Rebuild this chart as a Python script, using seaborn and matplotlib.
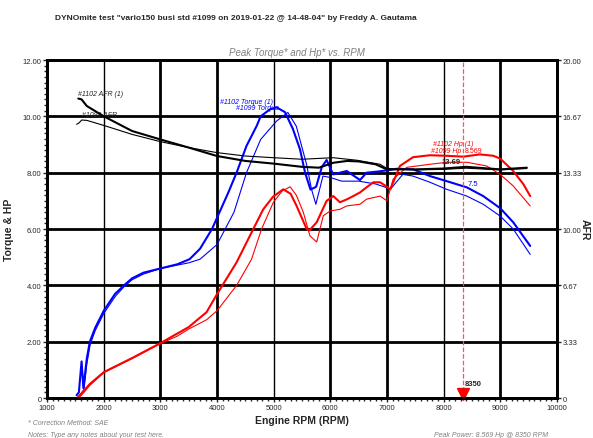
import numpy as np
import matplotlib
matplotlib.use('Agg')
import matplotlib.pyplot as plt
import matplotlib.ticker as mticker
import pandas as pd
import seaborn as sns

# ---- data ----
# torque (#1102 run, thick) and (#1099 run, thin)
tq_1102_rpm = [1519, 1560, 1608, 1640, 1700, 1754, 1850, 2000, 2200, 2357, 2500,
               2700, 3000, 3300, 3516, 3700, 3911, 4000, 4200, 4345, 4520, 4700,
               4770, 4935, 5050, 5200, 5340, 5465, 5555, 5650, 5750, 5850, 5935,
               6050, 6290, 6525, 6640, 6880, 7180, 7460, 7760, 8055, 8410, 8700,
               9000, 9230, 9530]
tq_1102 = [0.1, 0.2, 1.3, 0.35, 1.4, 2.0, 2.5, 3.1, 3.7, 4.0, 4.25,
           4.45, 4.6, 4.75, 4.93, 5.3, 6.0, 6.4, 7.3, 8.0, 8.95, 9.66,
           10.0, 10.25, 10.32, 10.15, 9.55, 8.83, 8.0, 7.4, 7.5, 8.2, 8.45,
           7.94, 8.06, 7.74, 8.0, 8.05, 8.14, 8.12, 7.88, 7.7, 7.48, 7.17,
           6.74, 6.24, 5.4]

tq_1099_rpm = [1560, 1650, 1700, 1760, 1850, 2000, 2200, 2357, 2500, 2700, 3000,
               3300, 3500, 3700, 4000, 4300, 4520, 4770, 5050, 5250, 5400, 5580,
               5670, 5745, 5870, 6000, 6200, 6500, 6800, 6950, 7060, 7280, 7460,
               7760, 8055, 8410, 8700, 9000, 9230, 9530]
tq_1099 = [0.05, 0.3, 1.2, 1.9, 2.4, 3.0, 3.6, 3.95, 4.2, 4.4, 4.6,
           4.72, 4.8, 4.93, 5.45, 6.6, 8.0, 9.18, 9.83, 10.14, 9.65, 8.3,
           7.4, 6.88, 7.88, 7.83, 7.7, 7.7, 7.6, 7.5, 7.41, 7.94, 7.88,
           7.66, 7.41, 7.17, 6.88, 6.46, 6.0, 5.1]

# horsepower
hp_1102_rpm = [1530, 1600, 1754, 2000, 2500, 3000, 3500, 3816, 4000, 4346, 4640,
               4816, 4990, 5170, 5300, 5405, 5583, 5630, 5760, 5935, 6053, 6170,
               6300, 6405, 6525, 6640, 6760, 6880, 7000, 7060, 7230, 7460, 7760,
               8055, 8350, 8640, 8880, 9000, 9230, 9410, 9530]
hp_1102 = [0.0, 0.15, 0.5, 0.92, 1.42, 1.95, 2.52, 3.05, 3.69, 4.82, 6.0,
           6.7, 7.15, 7.41, 7.25, 6.82, 6.0, 5.95, 6.24, 7.0, 7.17, 6.95,
           7.06, 7.17, 7.3, 7.48, 7.66, 7.66, 7.5, 7.41, 8.24, 8.55, 8.62,
           8.6, 8.57, 8.65, 8.6, 8.5, 8.06, 7.59, 7.17]

hp_1099_rpm = [1560, 1650, 1754, 2000, 2500, 3000, 3300, 3500, 3816, 4000, 4346,
               4610, 4786, 4995, 5150, 5290, 5400, 5523, 5640, 5760, 5876, 5995,
               6170, 6290, 6525, 6640, 6880, 7000, 7110, 7350, 7760, 8055, 8410,
               8760, 9000, 9230, 9530]
hp_1099 = [0.0, 0.2, 0.45, 0.9, 1.4, 1.93, 2.2, 2.45, 2.78, 3.1, 4.0,
           4.93, 6.0, 6.95, 7.35, 7.5, 7.2, 6.6, 5.76, 5.54, 6.47, 6.64,
           6.7, 6.82, 6.88, 7.06, 7.17, 7.0, 7.77, 8.19, 8.3, 8.37, 8.37,
           8.24, 7.94, 7.53, 6.82]

# air/fuel ratio (right axis)
afr_1102_rpm = [1550, 1608, 1700, 2000, 2500, 3000, 3500, 4000, 4500, 5000, 5500,
                5800, 6050, 6300, 6500, 6800, 7000, 7500, 8000, 8400, 9000, 9470]
afr_1102 = [17.72, 17.67, 17.28, 16.67, 15.8, 15.3, 14.82, 14.32, 14.03, 13.87, 13.68,
            13.63, 13.92, 14.03, 14.0, 13.83, 13.53, 13.53, 13.58, 13.68, 13.53, 13.63]

afr_1099_rpm = [1520, 1560, 1610, 1700, 2000, 2500, 3000, 3500, 4000, 4500, 5000,
                5500, 6050, 6470, 6880, 7000, 7500, 8000, 8400, 9000, 9470]
afr_1099 = [16.2, 16.27, 16.45, 16.43, 16.13, 15.6, 15.17, 14.82, 14.52, 14.32, 14.22,
            14.13, 14.22, 14.07, 13.83, 13.58, 13.5, 13.53, 13.6, 13.5, 13.58]

peak_rpm = 8350
afr_ticks = [0, 3.33, 6.67, 10.00, 13.33, 16.67, 20.00]


sns.set_style('white')
plt.rcParams['font.family'] = ['Liberation Sans Narrow', 'Liberation Sans', 'DejaVu Sans']

fig = plt.figure(figsize=(5.93, 4.39), dpi=100)
ax = fig.add_axes([0.0795, 0.091, 0.8595, 0.770])
ax2 = ax.twinx()

# torque & hp curves
sns.lineplot(x=tq_1102_rpm, y=tq_1102, ax=ax, color='#0000ff', linewidth=1.5, estimator=None)
sns.lineplot(x=tq_1099_rpm, y=tq_1099, ax=ax, color='#0000ff', linewidth=0.8, estimator=None)
sns.lineplot(x=hp_1102_rpm, y=hp_1102, ax=ax, color='#ff0000', linewidth=1.5, estimator=None)
sns.lineplot(x=hp_1099_rpm, y=hp_1099, ax=ax, color='#ff0000', linewidth=0.8, estimator=None)

# afr curves on the right scale
sns.lineplot(x=afr_1102_rpm, y=afr_1102, ax=ax2, color='black', linewidth=1.5, estimator=None)
sns.lineplot(x=afr_1099_rpm, y=afr_1099, ax=ax2, color='black', linewidth=0.8, estimator=None)

ax.set_xlim(1000, 10000)
ax.set_ylim(0, 12)
ax2.set_ylim(0, 20)

# grid, thin lines at 2000/5000/8000 like the original print
ax.set_xticks(range(1000, 10001, 1000))
ax.set_yticks(range(0, 13, 2))
ax.grid(True, color='black', linewidth=2)
for gl, t in zip(ax.xaxis.get_gridlines(), ax.get_xticks()):
    if t in (2000, 5000, 8000):
        gl.set_linewidth(1)
ax.set_axisbelow(True)
ax2.grid(False)

ax.xaxis.set_minor_locator(mticker.MultipleLocator(100))
ax.yaxis.set_minor_locator(mticker.MultipleLocator(0.2))
ax.tick_params(axis='both', which='major', direction='out', length=3, width=1,
               labelsize=5.5, pad=1, bottom=True, left=True)
ax.tick_params(axis='both', which='minor', direction='out', length=2, width=1,
               bottom=True, left=True)
ax.set_yticklabels(['0'] + ['%.2f' % v for v in range(2, 13, 2)])
ax.set_xticklabels([str(v) for v in range(1000, 10001, 1000)])

ax2.set_yticks(afr_ticks)
ax2.set_yticklabels(['0'] + ['%.2f' % v for v in afr_ticks[1:]])
ax2.tick_params(axis='y', direction='out', length=3, width=1, labelsize=5.5, pad=1, right=True)

for a in (ax, ax2):
    for sp in a.spines.values():
        sp.set_color('black')
        sp.set_linewidth(2)

ax.set_xlabel('Engine RPM (RPM)', fontsize=7.5, fontweight='bold', labelpad=3)
ax.set_ylabel('Torque & HP', fontsize=7.5, fontweight='bold')
ax.yaxis.set_label_coords(-0.065, 0.5)
ax2.set_ylabel('AFR', fontsize=7.5, fontweight='bold', rotation=-90, va='center')
ax2.yaxis.set_label_coords(1.055, 0.5)

# peak marker
ax.axvline(peak_rpm, color='#ff5555', linestyle='--', linewidth=0.9)
ax.plot([peak_rpm], [0.15], marker='v', color='#ff0000', markersize=9, clip_on=False)
ax.text(peak_rpm + 30, 0.5, '8350', fontsize=5.5, fontweight='bold', va='center')

# curve labels
ax.text(1540, 10.7, '#1102 AFR (1)', fontsize=5, style='italic', va='bottom')
ax.text(1620, 9.95, '#1099 AFR', fontsize=5, style='italic', va='bottom')
ax.text(4055, 10.42, '#1102 Torque (1)', fontsize=5, style='italic', color='#0000ff', va='bottom')
ax.text(4330, 10.18, '#1099 Torque', fontsize=5, style='italic', color='#0000ff', va='bottom')
ax.text(7820, 8.92, '#1102 Hp (1)', fontsize=5, style='italic', color='#ff0000', va='bottom')
ax.text(7780, 8.66, '#1099 Hp', fontsize=5, style='italic', color='#ff0000', va='bottom')
ax.text(8380, 8.8, '8.569', fontsize=5, color='#ff0000', va='center')
ax.text(7970, 8.38, '13.69', fontsize=5.5, fontweight='bold', va='center')
ax.text(8420, 7.62, '7.5', fontsize=5.5, color='#0000ff', va='center')

# titles and notes
fig.text(0.398, 0.958, 'DYNOmite test "vario150 busi std #1099 on 2019-01-22 @ 14-48-04" by Freddy A. Gautama',
         ha='center', va='center', fontsize=6, fontweight='bold')
fig.text(0.5, 0.879, 'Peak Torque* and Hp* vs. RPM', ha='center', va='center',
         fontsize=7, style='italic', color='#808080')
fig.text(0.047, 0.036, '* Correction Method: SAE', fontsize=5, style='italic', color='#808080', va='center')
fig.text(0.047, 0.007, 'Notes: Type any notes about your test here.', fontsize=5, style='italic',
         color='#808080', va='center')
fig.text(0.925, 0.007, 'Peak Power: 8.569 Hp @ 8350 RPM', fontsize=5, style='italic',
         color='#808080', va='center', ha='right')

plt.savefig('out.png', dpi=100)
